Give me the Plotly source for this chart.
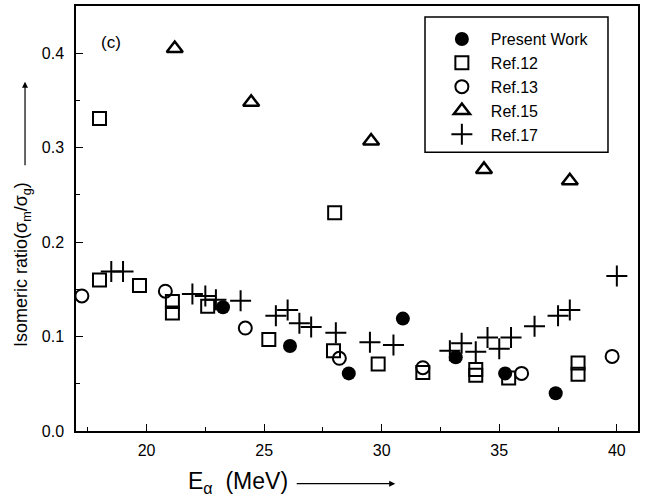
import plotly.graph_objects as go

# Present Work
pw_x = [23.25, 26.1, 28.6, 30.9, 33.15, 35.25, 37.4]
pw_y = [0.131, 0.090, 0.061, 0.119, 0.078, 0.061, 0.040]

# Ref.12
r12_x = [18.0, 18.0, 19.7, 21.1, 21.1, 22.6, 25.2, 27.95, 28.0, 29.85, 31.75, 34.0, 34.0, 35.4, 38.35, 38.35]
r12_y = [0.331, 0.160, 0.154, 0.137, 0.125, 0.132, 0.097, 0.085, 0.231, 0.071, 0.062, 0.065, 0.059, 0.056, 0.072, 0.060]

# Ref.13
r13_x = [17.25, 20.8, 24.2, 28.2, 31.75, 35.95, 39.8]
r13_y = [0.143, 0.148, 0.109, 0.077, 0.067, 0.061, 0.079]

# Ref.15
r15_x = [21.2, 24.45, 29.55, 34.35, 38.0]
r15_y = [0.405, 0.348, 0.307, 0.277, 0.265]

# Ref.17
r17_x = [18.5, 19.0, 21.95, 22.5, 22.95, 24.0, 25.5, 26.0, 26.5, 27.0, 28.05, 29.5, 30.5,
         32.9, 33.4, 34.0, 34.5, 35.0, 35.5, 36.5, 37.5, 38.0, 40.0]
r17_y = [0.169, 0.169, 0.145, 0.143, 0.139, 0.138, 0.122, 0.128, 0.114, 0.110, 0.104, 0.094, 0.091,
         0.085, 0.093, 0.084, 0.099, 0.087, 0.099, 0.111, 0.122, 0.128, 0.164]

x_ticks = [20, 25, 30, 35, 40]
y_ticks = [0.0, 0.1, 0.2, 0.3, 0.4]

FONT = "Liberation Sans, Arial, sans-serif"

fig = go.Figure()
fig.add_trace(go.Scatter(x=pw_x, y=pw_y, mode="markers", name="Present Work",
                         marker=dict(symbol="circle", size=14, color="black")))
fig.add_trace(go.Scatter(x=r12_x, y=r12_y, mode="markers", name="Ref.12",
                         marker=dict(symbol="square-open", size=13, color="black", line=dict(width=2))))
fig.add_trace(go.Scatter(x=r13_x, y=r13_y, mode="markers", name="Ref.13",
                         marker=dict(symbol="circle-open", size=13, color="black", line=dict(width=2))))
fig.add_trace(go.Scatter(x=r15_x, y=r15_y, mode="markers", name="Ref.15",
                         marker=dict(symbol="triangle-up-open", size=14, color="black", line=dict(width=2.5))))
fig.add_trace(go.Scatter(x=r17_x, y=r17_y, mode="markers", name="Ref.17",
                         marker=dict(symbol="cross-thin-open", size=15, color="black", line=dict(width=2))))

axis_common = dict(
    showline=True, linecolor="black", linewidth=1.5, mirror=True,
    ticks="inside", ticklen=7, tickwidth=1.2, tickcolor="black",
    showgrid=False, zeroline=False,
    tickfont=dict(family=FONT, size=16, color="black"),
)

fig.update_xaxes(range=[17, 40.9], tickvals=x_ticks, ticktext=[str(v) for v in x_ticks],
                 minor=dict(ticks="inside", ticklen=4, dtick=2.5, tick0=17.5, tickcolor="black"),
                 ticklabelstandoff=4, **axis_common)
fig.update_yaxes(range=[0, 0.45], tickvals=y_ticks, ticktext=["%.1f" % v for v in y_ticks],
                 minor=dict(ticks="inside", ticklen=4, dtick=0.05, tick0=0.05, tickcolor="black"),
                 ticklabelstandoff=7, **axis_common)

fig.update_layout(
    width=645, height=498,
    margin=dict(l=76, r=7, t=4, b=67),
    paper_bgcolor="white", plot_bgcolor="white",
    font=dict(family=FONT, color="black"),
    showlegend=True,
    legend=dict(x=0.635, y=0.962, xanchor="left", yanchor="top",
                borderwidth=0, bgcolor="rgba(0,0,0,0)",
                font=dict(family=FONT, size=16, color="black"),
                itemwidth=48, tracegroupgap=0, entrywidth=110),
    shapes=[
        dict(type="rect", xref="paper", yref="paper",
             x0=0.621, x1=0.9466, y0=0.6557, y1=0.974,
             line=dict(color="black", width=1.5), fillcolor="white", layer="below"),
    ],
    annotations=[
        dict(text="(c)", x=18.5, y=0.411, xref="x", yref="y", showarrow=False,
             font=dict(family=FONT, size=17, color="black")),
        dict(text="Isomeric ratio(σ<sub>m</sub>/σ<sub>g</sub>)", textangle=-90,
             x=-0.094, y=0.391, xref="paper", yref="paper", xanchor="center", yanchor="middle",
             showarrow=False, font=dict(family=FONT, size=18, color="black")),
        dict(text="", x=-0.0907, y=0.822, xref="paper", yref="paper", showarrow=True,
             ax=0, ay=85, arrowhead=2, arrowsize=1, arrowwidth=1.2, arrowcolor="black"),
        dict(text="E<sub>α</sub>  (MeV)", x=0.288, y=-0.1215, xref="paper", yref="paper",
             xanchor="center", yanchor="middle",
             showarrow=False, font=dict(family=FONT, size=23, color="black")),
        dict(text="", x=0.568, y=-0.124, xref="paper", yref="paper", showarrow=True,
             ax=-100, ay=0, arrowhead=2, arrowsize=1, arrowwidth=1.2, arrowcolor="black"),
    ],
)

fig.write_html("out.html")
